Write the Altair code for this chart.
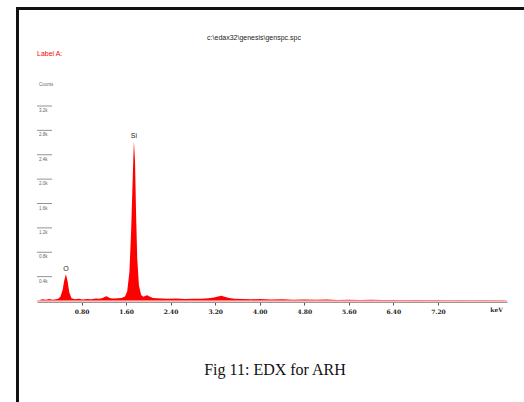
import altair as alt
import pandas as pd

# EDX spectrum: energy (keV) and counts
energy = [0.05, 0.10, 0.16, 0.22, 0.28, 0.34, 0.38, 0.42, 0.46, 0.49, 0.52, 0.55, 0.58, 0.62,
          0.68, 0.75, 0.82, 0.90, 0.98, 1.05, 1.12, 1.18, 1.22, 1.25, 1.28, 1.32, 1.38, 1.45,
          1.52, 1.58, 1.62, 1.66, 1.69, 1.72, 1.74, 1.76, 1.78, 1.80, 1.83, 1.87, 1.91, 1.95,
          1.98, 2.02, 2.08, 2.15, 2.25, 2.35, 2.50, 2.65, 2.80, 2.95, 3.08, 3.18, 3.25, 3.31,
          3.37, 3.45, 3.55, 3.70, 3.85, 4.00, 4.20, 4.40, 4.60, 4.80, 5.00, 5.20, 5.40, 5.60,
          5.80, 6.00, 6.20, 6.40, 6.60, 6.80, 7.00, 7.20, 7.40, 7.60, 7.80, 8.00, 8.20, 8.40]
counts = [15, 30, 20, 32, 22, 30, 35, 70, 180, 340, 440, 320, 140, 45,
          30, 38, 26, 34, 30, 40, 36, 50, 68, 80, 62, 45, 40, 46,
          50, 75, 160, 480, 1150, 2050, 2620, 2300, 1400, 700, 260, 100, 70, 85,
          95, 75, 50, 45, 40, 36, 42, 34, 38, 36, 44, 58, 75, 85,
          70, 48, 38, 34, 30, 32, 25, 28, 22, 26, 20, 24, 18, 22,
          16, 20, 15, 18, 14, 16, 12, 14, 10, 12, 10, 12, 10, 10]

# peak identifications
peak_names = ["O", "Si"]
peak_energy = [0.52, 1.74]
peak_counts = [440, 2620]

# vertical scale ticks
tick_values = [400, 800, 1200, 1600, 2000, 2400, 2800, 3200]
tick_labels = ["0.4k", "0.8k", "1.2k", "1.6k", "2.0k", "2.4k", "2.8k", "3.2k"]

W, H = 470, 195
LEFT, TOP = 37, 106
TOTAL_W, TOTAL_H = 524, 402

spec = pd.DataFrame({"energy": energy, "counts": counts})
peaks = pd.DataFrame({"name": peak_names, "energy": peak_energy, "counts": peak_counts})
ticks = pd.DataFrame({"v": tick_values, "lab": tick_labels})
one = pd.DataFrame({"k": [0]})

xs = alt.Scale(domain=[0, 8.44], nice=False, zero=False)
ys = alt.Scale(domain=[0, 3200], nice=False)

# page frame: top and left borders as thin filled bars
frame_top = alt.Chart(one).mark_rect(color="#111", strokeWidth=0).encode(
    x=alt.value(16 - LEFT), x2=alt.value(TOTAL_W - LEFT),
    y=alt.value(7 - TOP), y2=alt.value(10 - TOP),
)
frame_left = alt.Chart(one).mark_rect(color="#111", strokeWidth=0).encode(
    x=alt.value(16 - LEFT), x2=alt.value(19 - LEFT),
    y=alt.value(7 - TOP), y2=alt.value(TOTAL_H - TOP),
)

tick_rules = alt.Chart(ticks).mark_rule(color="#777", strokeWidth=0.8).encode(
    y=alt.Y("v:Q", scale=ys, axis=None),
    x=alt.value(0), x2=alt.value(15),
)
tick_text = alt.Chart(ticks).mark_text(
    align="left", baseline="top", dx=0, dy=2, fontSize=4.5, color="#666",
    font="Liberation Sans",
).encode(
    y=alt.Y("v:Q", scale=ys, axis=None),
    x=alt.value(2),
    text="lab:N",
)

baseline = alt.Chart(one).mark_rule(color="#f7a5a5", strokeWidth=1.6).encode(
    x=alt.value(0), x2=alt.value(W), y=alt.value(H),
)

x_axis = alt.Axis(
    values=[0.8, 1.6, 2.4, 3.2, 4.0, 4.8, 5.6, 6.4, 7.2], format=".2f",
    grid=False, domainColor="#999", domainWidth=1.2, tickColor="#555",
    tickSize=3, offset=1, labelFont="DejaVu Serif", labelFontWeight="bold",
    labelFontSize=6, labelColor="#222", labelPadding=3, zindex=1,
)

area = alt.Chart(spec).mark_area(color="#ff0000", interpolate="linear").encode(
    x=alt.X("energy:Q", scale=xs, title=None, axis=x_axis),
    y=alt.Y("counts:Q", scale=ys, axis=None),
)

peak_text = alt.Chart(peaks).mark_text(
    baseline="bottom", dy=-2, fontSize=7, color="#222", font="Liberation Sans",
).encode(
    x=alt.X("energy:Q", scale=xs, title=None, axis=x_axis),
    y=alt.Y("counts:Q", scale=ys, axis=None),
    text="name:N",
)

def label(txt, x, y, size, color="#222", font="Liberation Sans", align="left", weight="normal"):
    return alt.Chart(one).mark_text(
        text=txt, align=align, baseline="middle", fontSize=size, color=color,
        font=font, fontWeight=weight,
    ).encode(x=alt.value(x), y=alt.value(y))

title = label("c:\\edax32\\genesis\\genspc.spc", 254 - LEFT, 38 - TOP, 7, align="center")
label_a = label("Label A:", 0, 54 - TOP, 7, color="#ff0000")
counts_lab = label("Counts", 2, 85 - TOP, 4.5, color="#666")
kev = label("keV", 503 - LEFT, 310 - TOP, 6, align="right", font="DejaVu Serif", weight="bold")
caption = label("Fig 11: EDX for ARH", 275 - LEFT, 370 - TOP, 16, color="#111",
                font="Liberation Serif", align="center")

chart = alt.layer(
    frame_top, frame_left, tick_rules, tick_text, area, baseline, peak_text,
    title, label_a, counts_lab, kev, caption,
).properties(
    width=W, height=H,
    padding={"left": LEFT, "top": TOP, "right": TOTAL_W - LEFT - W, "bottom": TOTAL_H - TOP - H},
    autosize=alt.AutoSizeParams(type="none"),
    background="white",
).configure_view(stroke=None)

chart.save("out.html", embed_options={"renderer": "svg", "actions": False})
